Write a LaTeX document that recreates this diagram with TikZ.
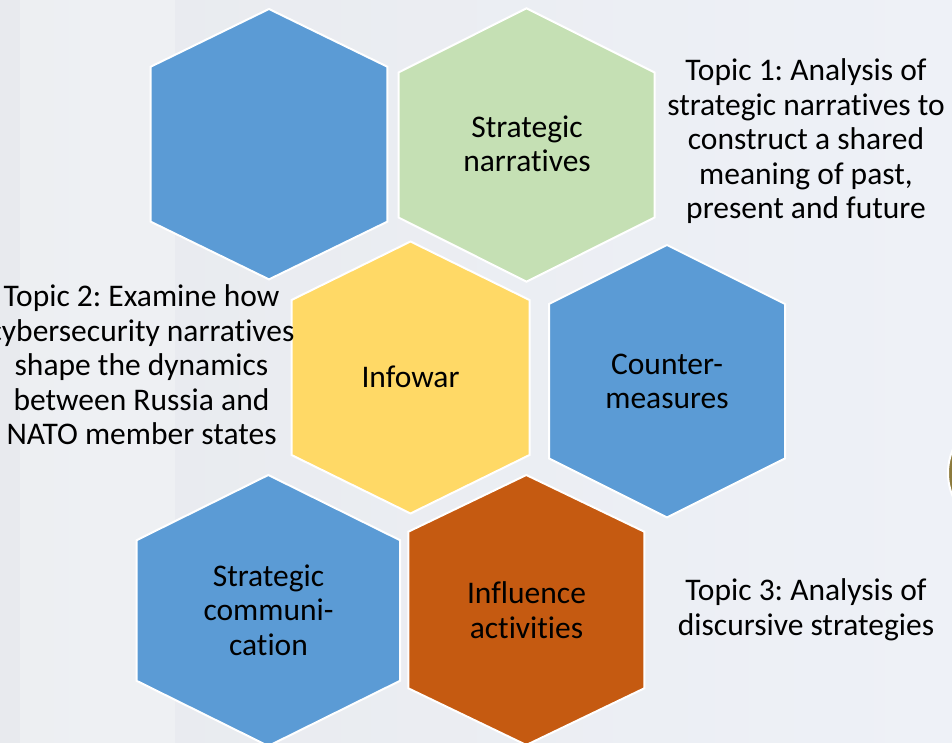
\documentclass[tikz,border=0pt]{standalone}
\usepackage{fontspec}
\setmainfont{Carlito}[Ligatures=NoCommon]
\frenchspacing
\definecolor{hblue}{HTML}{5B9BD5}
\definecolor{hgreen}{HTML}{C5E0B4}
\definecolor{hyellow}{HTML}{FFD966}
\definecolor{horange}{HTML}{C55A11}
\definecolor{bgl}{HTML}{E8EAEE}
\definecolor{bgr}{HTML}{EEF1F7}
\definecolor{olive}{HTML}{8C7A3C}
\newcommand{\hexshape}[6]{%
  \filldraw[hexline, fill=#6]
    (#1,#2-#4) -- (#1+#3,#2-#5) -- (#1+#3,#2+#5) -- (#1,#2+#4)
    -- (#1-#3,#2+#5) -- (#1-#3,#2-#5) -- cycle;}
\tikzset{
  hexline/.style={draw=white, line width=2pt, line join=miter},
  hexlabel/.style={align=center, font=\fontsize{31.5}{34.5}\selectfont, text=black, inner sep=0pt},
  topic/.style={align=center, font=\fontsize{31.5}{34.5}\selectfont, text=black, inner sep=0pt},
}
\begin{document}
\begin{tikzpicture}[x=1pt, y=-1pt]
\useasboundingbox (0,0) rectangle (952,743);
\begin{scope}
\clip (0,0) rectangle (952,743);
\shade[left color=bgl, right color=bgr] (0,0) rectangle (952,743);
\fill[white, opacity=0.25] (20,0) rectangle (175,743);
\filldraw[fill=olive, draw=white, line width=2pt] (1008,473) circle (60);
% hexagons
\hexshape{269}{144.2}{118.3}{135.2}{77.5}{hblue}
\hexshape{526.5}{145}{128}{136.7}{72.5}{hgreen}
\hexshape{410.5}{377.5}{119}{136}{77.5}{hyellow}
\hexshape{667}{381.2}{118}{136.2}{77.2}{hblue}
\hexshape{268.3}{610.5}{131.7}{135.5}{70.3}{hblue}
\hexshape{526.3}{610}{118}{135}{78.3}{horange}
% labels
\node[hexlabel] (sn) at (527,144) {Strategic\\narratives};
\node[hexlabel] (iw) at (410.5,377) {Infowar};
\node[hexlabel] (cm) at (667,381.5) {Counter-\\measures};
\node[hexlabel] (sc) at (268.5,610) {Strategic\\communi-\\cation};
\node[hexlabel] (ia) at (526.5,610) {Influence\\activities};
\node[topic] (t1) at (806,141.5) {Topic 1: Analysis of\\strategic narratives to\\construct a shared\\meaning of past,\\present and future};
\node[topic] (t2) at (141.5,365) {Topic 2: Examine how\\cybersecurity narratives\\shape the dynamics\\between Russia and\\NATO member states};
\node[topic] (t3) at (806,610) {Topic 3: Analysis of\\discursive strategies};
\end{scope}
\end{tikzpicture}
\end{document}
